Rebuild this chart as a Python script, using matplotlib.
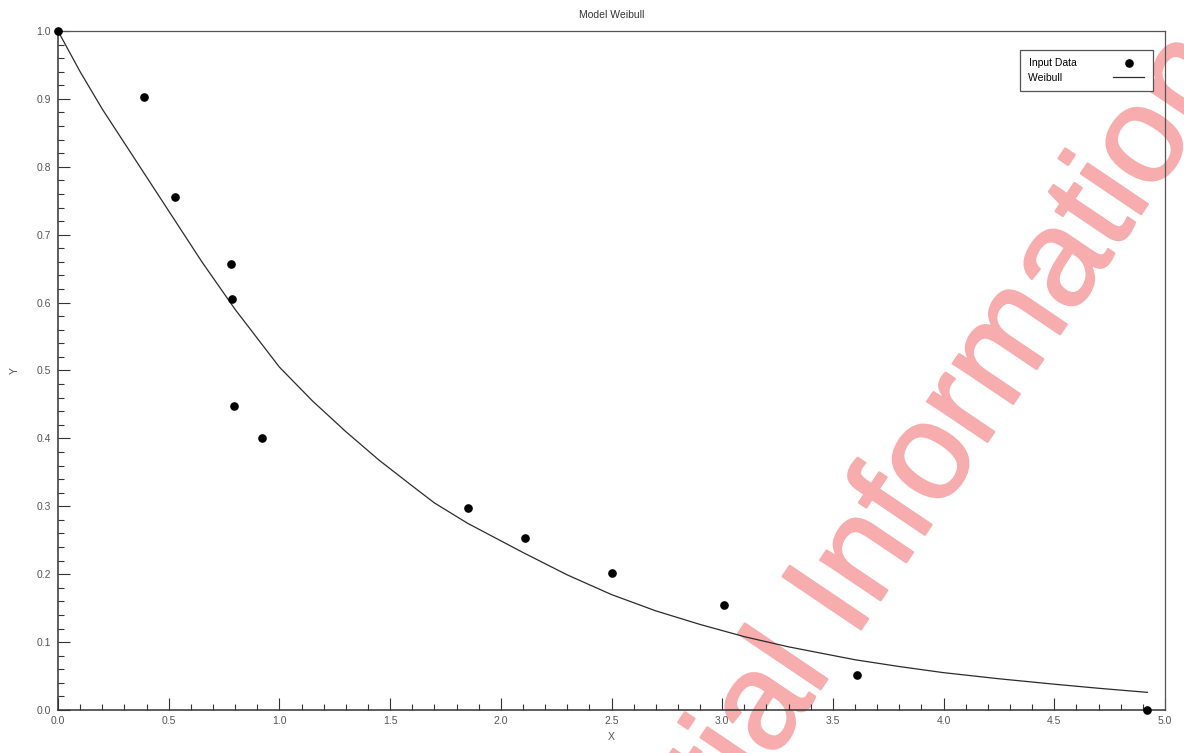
import matplotlib
matplotlib.use('Agg')
import matplotlib.pyplot as plt
import matplotlib.patheffects as pe
from matplotlib.ticker import MultipleLocator

plt.rcParams['font.family'] = ['Liberation Sans', 'DejaVu Sans']

# measured points
x_data = [0.0, 0.39, 0.53, 0.78, 0.786, 0.795, 0.92, 1.85, 2.11, 2.50, 3.01, 3.61, 4.92]
y_data = [1.0, 0.903, 0.755, 0.657, 0.605, 0.448, 0.400, 0.298, 0.253, 0.202, 0.155, 0.052, 0.0]

# fitted Weibull curve
x_fit = [0.0, 0.1, 0.2, 0.3, 0.4, 0.5, 0.65, 0.8, 1.0, 1.15, 1.3, 1.45, 1.6, 1.7, 1.85,
         2.1, 2.3, 2.5, 2.7, 2.9, 3.1, 3.3, 3.6, 3.8, 4.0, 4.25, 4.5, 4.7, 4.92]
y_fit = [1.0, 0.94, 0.885, 0.835, 0.785, 0.735, 0.66, 0.59, 0.505, 0.455, 0.41, 0.368, 0.33, 0.305, 0.275,
         0.232, 0.199, 0.17, 0.146, 0.126, 0.108, 0.093, 0.074, 0.064, 0.055, 0.046, 0.038, 0.032, 0.026]

fig = plt.figure(figsize=(11.84, 7.53), dpi=100)
ax = fig.add_axes([58 / 1184, 43 / 753, 1107 / 1184, 679 / 753])
ax.set_facecolor('none')
ax.set_zorder(1)

# watermark behind the plot
wm_color = '#f7acae'
fig.text(1239 / 1184, (753 - 69) / 753, "Confidential Information",
         fontsize=99, color=wm_color, rotation=56,
         rotation_mode='anchor', ha='right', va='baseline', zorder=0.5,
         path_effects=[pe.withStroke(linewidth=1.6, foreground=wm_color)])

ax.plot(x_fit, y_fit, color='#2b2b2b', linewidth=0.9, label='Weibull', zorder=2)
ax.plot(x_data, y_data, linestyle='none', marker='o', markersize=5.2,
        color='black', label='Input Data', clip_on=False, zorder=3)

ax.set_xlim(0, 5)
ax.set_ylim(0, 1)
ax.xaxis.set_major_locator(MultipleLocator(0.5))
ax.xaxis.set_minor_locator(MultipleLocator(0.1))
ax.yaxis.set_major_locator(MultipleLocator(0.1))
ax.yaxis.set_minor_locator(MultipleLocator(0.02))
ax.xaxis.set_major_formatter(lambda v, p: f"{v:.1f}")
ax.yaxis.set_major_formatter(lambda v, p: f"{v:.1f}")

ax.tick_params(which='both', direction='in', top=False, right=False,
               colors='#333333', labelcolor='#555555', labelsize=7.5, width=0.8)
ax.tick_params(which='major', length=8.5)
ax.tick_params(which='minor', length=4.5)
ax.tick_params(axis='x', pad=4)
ax.tick_params(axis='y', pad=5)

for side in ['left', 'bottom']:
    ax.spines[side].set_color('#333333')
    ax.spines[side].set_linewidth(1.1)
for side in ['top', 'right']:
    ax.spines[side].set_color('#555555')
    ax.spines[side].set_linewidth(0.9)

ax.set_title("Model Weibull", fontsize=7.5, color='#333333', pad=9)
ax.set_xlabel("X", fontsize=7.5, color='#555555', labelpad=5)
ax.set_ylabel("Y", fontsize=7.5, color='#555555', labelpad=12)

# handles sit right of the text; pad the short label so texts line up on the left
handles, labels = ax.get_legend_handles_labels()
labels = [lab.ljust(12) if lab == 'Weibull' else lab for lab in labels]
leg = ax.legend(handles[::-1], labels[::-1], loc='upper right',
                bbox_to_anchor=(0.989, 0.972), fontsize=7.5, markerfirst=False,
                fancybox=False, framealpha=1, edgecolor='#555555',
                handlelength=3, handletextpad=3.5, borderpad=0.8,
                labelspacing=0.45, borderaxespad=0)
leg.get_frame().set_linewidth(0.9)

plt.savefig("out.png", dpi=100, facecolor='white')
